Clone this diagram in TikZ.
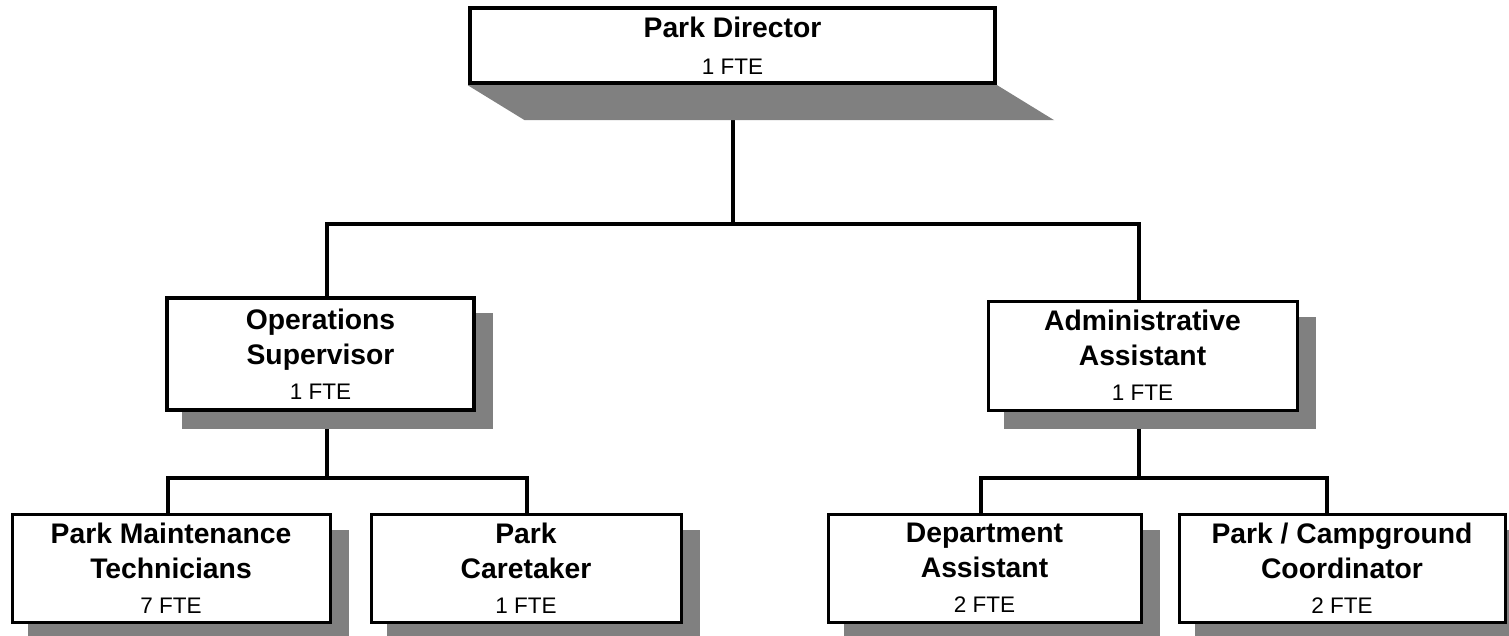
\documentclass[tikz,border=0pt]{standalone}
\usepackage{fontspec}
\setmainfont{Liberation Sans}
\usetikzlibrary{backgrounds,calc}
\definecolor{shade}{HTML}{808080}
\newcommand{\ttl}[1]{{\bfseries #1}}
\newcommand{\fte}[1]{{\fontsize{22.5}{35}\selectfont #1}}
\begin{document}
\begin{tikzpicture}[x=1pt,y=-1pt,
  box/.style={draw, fill=white, line width=3pt, align=center, inner sep=0pt, font=\fontsize{28.3}{35}\selectfont},
  conn/.style={line width=4pt, line join=miter},
  shadowfill/.style={fill=shade}]
\useasboundingbox (0,0) rectangle (1509,636);
% boxes
\node[box, line width=4.5pt, minimum width=525pt, minimum height=75pt] (top) at (732.5,45.5)
  {\ttl{Park Director}\\[2pt]\fte{1 FTE}};
\node[box, line width=4pt, minimum width=307pt, minimum height=112pt] (ops) at (320.5,354)
  {\ttl{Operations}\\\ttl{Supervisor}\\\fte{1 FTE}};
\node[box, minimum width=309pt, minimum height=109pt] (adm) at (1142.5,355.5)
  {\ttl{Administrative}\\\ttl{Assistant}\\\fte{1 FTE}};
\node[box, minimum width=318pt, minimum height=108pt] (pmt) at (171,568)
  {\ttl{Park Maintenance}\\\ttl{Technicians}\\\fte{7 FTE}};
\node[box, minimum width=310pt, minimum height=108pt] (pc) at (526,568)
  {\ttl{Park}\\\ttl{Caretaker}\\\fte{1 FTE}};
\node[box, minimum width=313pt, minimum height=108pt] (da) at (984.5,568)
  {\ttl{Department}\\\ttl{Assistant}\\\fte{2 FTE}};
\node[box, minimum width=326pt, minimum height=108pt] (pcc) at (1342,568)
  {\ttl{Park / Campground}\\\ttl{Coordinator}\\\fte{2 FTE}};
% junctions
\coordinate (hb) at (733,224);
\coordinate (lb) at (327,478);
\coordinate (rb) at (1139,478);
\begin{scope}[on background layer]
  % connectors
  \draw[conn] (top.south) -- (top.south |- hb);
  \draw[conn] ([xshift=6.5pt]ops.north) |- (hb) -| ([xshift=-4pt]adm.north);
  \draw[conn] (ops.south -| lb) -- (lb);
  \draw[conn] ([xshift=-3pt]pmt.north) |- ([xshift=1pt]pc.north |- lb) -- ([xshift=1pt]pc.north);
  \draw[conn] (adm.south -| rb) -- (rb);
  \draw[conn] ([xshift=-3.5pt]da.north) |- ([xshift=-15pt]pcc.north |- rb) -- ([xshift=-15pt]pcc.north);
  % shadows
  \fill[shadowfill] (top.south west) -- (top.south east) -- ($(top.south east)+(57,35)$) -- ($(top.south west)+(57,35)$) -- cycle;
  \foreach \n in {ops,adm,pmt,pc,da,pcc}
    \fill[shadowfill] ($(\n.south west)+(17,17)$) rectangle ($(\n.north east)+(17,17)$);
\end{scope}
\end{tikzpicture}
\end{document}
